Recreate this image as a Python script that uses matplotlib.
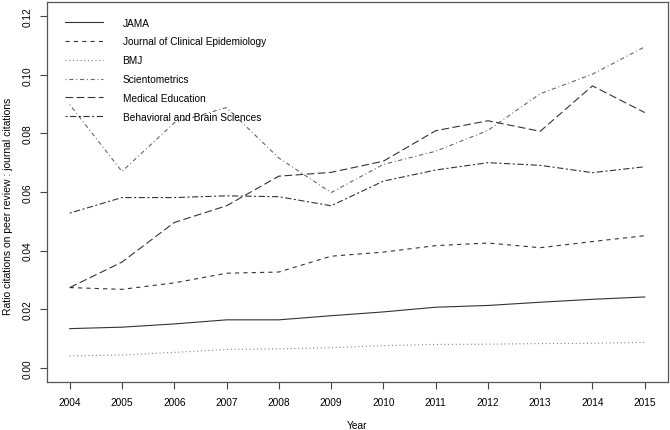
import matplotlib
matplotlib.use("Agg")
import matplotlib.pyplot as plt

years = list(range(2004, 2016))
jama = [0.0134, 0.0139, 0.0150, 0.0164, 0.0164, 0.0178, 0.0191, 0.0207, 0.0213, 0.0224, 0.0234, 0.0242]
jce = [0.0274, 0.0268, 0.0290, 0.0323, 0.0327, 0.0381, 0.0395, 0.0417, 0.0426, 0.0410, 0.0431, 0.0451]
bmj = [0.0041, 0.0044, 0.0053, 0.0063, 0.0065, 0.0069, 0.0076, 0.0080, 0.0081, 0.0083, 0.0084, 0.0087]
scientometrics = [0.0898, 0.0670, 0.0836, 0.0888, 0.0716, 0.0598, 0.0694, 0.0739, 0.0810, 0.0935, 0.1002, 0.1095]
med_edu = [0.0274, 0.0361, 0.0496, 0.0553, 0.0654, 0.0667, 0.0705, 0.0809, 0.0843, 0.0807, 0.0962, 0.0871]
behav = [0.0528, 0.0581, 0.0581, 0.0587, 0.0584, 0.0553, 0.0637, 0.0675, 0.0700, 0.0691, 0.0666, 0.0686]

labels = ["JAMA", "Journal of Clinical Epidemiology", "BMJ", "Scientometrics",
          "Medical Education", "Behavioral and Brain Sciences"]
series = [jama, jce, bmj, scientometrics, med_edu, behav]
styles = ["-", (0, (3, 3)), (0, (0.7, 2.0)), (0, (0.7, 2.0, 3, 2.0)),
          (0, (5.5, 2.5)), (0, (1.5, 1.8, 4.5, 1.8))]
colors = ["#333333", "#333333", "#777777", "#666666", "#333333", "#333333"]

plt.rcParams["lines.scale_dashes"] = False
plt.rcParams["font.family"] = ["Liberation Sans", "DejaVu Sans"]
fs = 7.3

fig = plt.figure(figsize=(6.7, 4.31), dpi=100)
ax = fig.add_axes([0.0697, 0.1114, 0.9269, 0.8816])

for y, lab, ls, c in zip(series, labels, styles, colors):
    ax.plot(years, y, linestyle=ls, color=c, lw=0.8, label=lab)

ax.set_xlim(2004 - 0.44, 2015 + 0.44)
ax.set_ylim(-0.0048, 0.1248)
ax.set_xticks(years)
ax.set_xticklabels([str(v) for v in years])
yt = [0.00, 0.02, 0.04, 0.06, 0.08, 0.10, 0.12]
ax.set_yticks(yt)
ax.set_yticklabels(["%.2f" % v for v in yt], rotation=90, va="center")
ax.tick_params(direction="out", length=5, width=0.8, color="#444444", labelsize=fs)
ax.tick_params(axis="x", pad=6)
ax.tick_params(axis="y", pad=5)
for sp in ax.spines.values():
    sp.set_color("#555555")
    sp.set_linewidth(0.9)

ax.set_xlabel("Year", fontsize=fs)
ax.set_ylabel("Ratio citations on peer review : journal citations", fontsize=7.5)
ax.xaxis.set_label_coords(0.5, -0.1)
ax.yaxis.set_label_coords(-0.055, 0.465)

leg = ax.legend(loc="upper left", bbox_to_anchor=(0.029, 0.959), frameon=False,
                fontsize=fs, handlelength=3.75, handletextpad=1.95, labelspacing=0.87,
                borderpad=0, borderaxespad=0)

fig.savefig("out.png", dpi=100)
